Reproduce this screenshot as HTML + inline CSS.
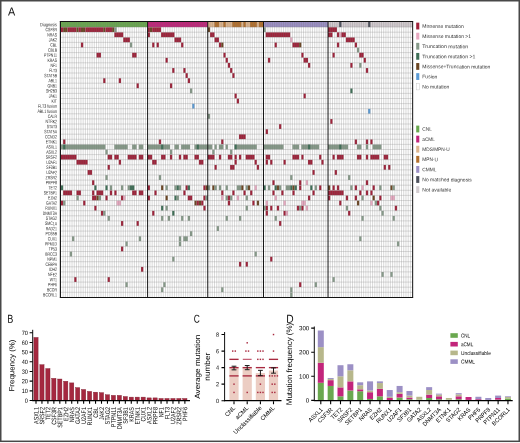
<!DOCTYPE html>
<html><head><meta charset="utf-8"><title>Figure</title>
<style>html,body{margin:0;padding:0;background:#fff;overflow:hidden}svg{display:block;will-change:transform}</style></head>
<body>
<svg width="520" height="443" viewBox="0 0 520 443" font-family="'Liberation Sans', sans-serif" text-rendering="geometricPrecision">
<rect x="0" y="0" width="520" height="443" fill="#fff"/>
<g>
<rect x="0.75" y="0.75" width="518.5" height="440.55" fill="#fff" stroke="#484848" stroke-width="1.5"/>
<g shape-rendering="auto">
<rect x="60.4" y="21.44" width="352.26" height="275.96" fill="#fff"/>
<rect x="60.9" y="21.44" width="86.82" height="5.66" fill="#6aa84f"/>
<rect x="147.72" y="21.44" width="60.11" height="5.66" fill="#c2257b"/>
<rect x="207.83" y="21.44" width="55.65" height="5.66" fill="#deb68f"/>
<rect x="214.51" y="21.44" width="4.45" height="5.66" fill="#b4712e"/>
<rect x="223.41" y="21.44" width="2.23" height="5.66" fill="#b4712e"/>
<rect x="232.32" y="21.44" width="8.9" height="5.66" fill="#b4712e"/>
<rect x="243.45" y="21.44" width="2.23" height="5.66" fill="#b4712e"/>
<rect x="250.13" y="21.44" width="6.68" height="5.66" fill="#b4712e"/>
<rect x="259.03" y="21.44" width="4.45" height="5.66" fill="#b4712e"/>
<rect x="263.48" y="21.44" width="64.56" height="5.66" fill="#9c90c5"/>
<rect x="328.04" y="21.44" width="84.6" height="5.66" fill="#d3ccd0"/>
<rect x="339.17" y="21.44" width="2.23" height="5.66" fill="#4e525d"/>
<rect x="368.12" y="21.44" width="2.23" height="5.66" fill="#4e525d"/>
<rect x="60.9" y="27.25" width="2.23" height="4.8" fill="#a0223a"/>
<rect x="63.13" y="27.25" width="4.45" height="4.8" fill="#6b4522"/>
<rect x="67.58" y="27.25" width="8.9" height="4.8" fill="#a0223a"/>
<rect x="76.48" y="27.25" width="2.23" height="4.8" fill="#6b4522"/>
<rect x="78.71" y="27.25" width="2.23" height="4.8" fill="#a0223a"/>
<rect x="80.94" y="27.25" width="4.45" height="4.8" fill="#6b4522"/>
<rect x="85.39" y="27.25" width="17.81" height="4.8" fill="#a0223a"/>
<rect x="103.2" y="27.25" width="2.23" height="4.8" fill="#6b4522"/>
<rect x="105.42" y="27.25" width="6.68" height="4.8" fill="#a0223a"/>
<rect x="112.1" y="27.25" width="2.23" height="4.8" fill="#6b4522"/>
<rect x="114.33" y="27.25" width="2.23" height="4.8" fill="#869a89"/>
<rect x="147.72" y="27.25" width="2.23" height="4.8" fill="#a0223a"/>
<rect x="149.95" y="27.25" width="2.23" height="4.8" fill="#6b4522"/>
<rect x="152.17" y="27.25" width="8.9" height="4.8" fill="#a0223a"/>
<rect x="207.83" y="27.25" width="2.23" height="4.8" fill="#6b4522"/>
<rect x="263.48" y="27.25" width="2.23" height="4.8" fill="#869a89"/>
<rect x="328.04" y="27.25" width="8.9" height="4.8" fill="#a0223a"/>
<rect x="114.33" y="32.35" width="8.9" height="4.8" fill="#a0223a"/>
<rect x="147.72" y="32.35" width="2.23" height="4.8" fill="#a0223a"/>
<rect x="161.08" y="32.35" width="13.36" height="4.8" fill="#a0223a"/>
<rect x="210.06" y="32.35" width="4.45" height="4.8" fill="#a0223a"/>
<rect x="265.71" y="32.35" width="24.49" height="4.8" fill="#a0223a"/>
<rect x="328.04" y="32.35" width="4.45" height="4.8" fill="#a0223a"/>
<rect x="336.95" y="32.35" width="2.23" height="4.8" fill="#a0223a"/>
<rect x="339.17" y="32.35" width="2.23" height="4.8" fill="#e6a9c0"/>
<rect x="341.4" y="32.35" width="4.45" height="4.8" fill="#a0223a"/>
<rect x="123.23" y="37.45" width="6.68" height="4.8" fill="#a0223a"/>
<rect x="174.44" y="37.45" width="6.68" height="4.8" fill="#a0223a"/>
<rect x="214.51" y="37.45" width="4.45" height="4.8" fill="#a0223a"/>
<rect x="290.2" y="37.45" width="2.23" height="4.8" fill="#e6a9c0"/>
<rect x="345.85" y="37.45" width="8.9" height="4.8" fill="#a0223a"/>
<rect x="80.94" y="42.55" width="2.23" height="4.8" fill="#a0223a"/>
<rect x="129.91" y="42.55" width="2.23" height="4.8" fill="#869a89"/>
<rect x="152.17" y="42.55" width="2.23" height="4.8" fill="#a0223a"/>
<rect x="156.63" y="42.55" width="2.23" height="4.8" fill="#a0223a"/>
<rect x="181.11" y="42.55" width="2.23" height="4.8" fill="#a0223a"/>
<rect x="218.96" y="42.55" width="2.23" height="4.8" fill="#a0223a"/>
<rect x="221.19" y="42.55" width="2.23" height="4.8" fill="#6b4522"/>
<rect x="274.62" y="42.55" width="2.23" height="4.8" fill="#a0223a"/>
<rect x="292.42" y="42.55" width="6.68" height="4.8" fill="#a0223a"/>
<rect x="299.1" y="42.55" width="2.23" height="4.8" fill="#6b4522"/>
<rect x="336.95" y="42.55" width="2.23" height="4.8" fill="#a0223a"/>
<rect x="354.76" y="42.55" width="2.23" height="4.8" fill="#a0223a"/>
<rect x="356.98" y="47.65" width="2.23" height="4.8" fill="#869a89"/>
<rect x="96.52" y="52.75" width="4.45" height="4.8" fill="#a0223a"/>
<rect x="132.14" y="52.75" width="4.45" height="4.8" fill="#a0223a"/>
<rect x="223.41" y="52.75" width="2.23" height="4.8" fill="#a0223a"/>
<rect x="301.33" y="52.75" width="2.23" height="4.8" fill="#a0223a"/>
<rect x="332.5" y="52.75" width="2.23" height="4.8" fill="#a0223a"/>
<rect x="359.21" y="52.75" width="4.45" height="4.8" fill="#a0223a"/>
<rect x="165.53" y="57.85" width="2.23" height="4.8" fill="#a0223a"/>
<rect x="225.64" y="57.85" width="2.23" height="4.8" fill="#a0223a"/>
<rect x="267.94" y="57.85" width="2.23" height="4.8" fill="#a0223a"/>
<rect x="303.56" y="57.85" width="4.45" height="4.8" fill="#a0223a"/>
<rect x="363.66" y="57.85" width="2.23" height="4.8" fill="#a0223a"/>
<rect x="227.87" y="62.95" width="2.23" height="4.8" fill="#a0223a"/>
<rect x="308.01" y="62.95" width="2.23" height="4.8" fill="#a0223a"/>
<rect x="350.31" y="62.95" width="2.23" height="4.8" fill="#a0223a"/>
<rect x="359.21" y="62.95" width="2.23" height="4.8" fill="#869a89"/>
<rect x="172.21" y="68.05" width="2.23" height="4.8" fill="#a0223a"/>
<rect x="183.34" y="68.05" width="2.23" height="4.8" fill="#a0223a"/>
<rect x="230.09" y="68.05" width="2.23" height="4.8" fill="#a0223a"/>
<rect x="365.89" y="68.05" width="2.23" height="4.8" fill="#a0223a"/>
<rect x="185.57" y="73.15" width="2.23" height="4.8" fill="#a0223a"/>
<rect x="232.32" y="73.15" width="2.23" height="4.8" fill="#a0223a"/>
<rect x="103.2" y="78.25" width="2.23" height="4.8" fill="#a0223a"/>
<rect x="118.78" y="78.25" width="2.23" height="4.8" fill="#a0223a"/>
<rect x="187.79" y="78.25" width="2.23" height="4.8" fill="#a0223a"/>
<rect x="136.59" y="83.35" width="2.23" height="4.8" fill="#a0223a"/>
<rect x="169.98" y="83.35" width="2.23" height="4.8" fill="#a0223a"/>
<rect x="190.02" y="88.45" width="2.23" height="4.8" fill="#869a89"/>
<rect x="350.31" y="88.45" width="2.23" height="4.8" fill="#3f6f57"/>
<rect x="234.54" y="93.55" width="2.23" height="4.8" fill="#a0223a"/>
<rect x="303.56" y="93.55" width="2.23" height="4.8" fill="#a0223a"/>
<rect x="236.77" y="98.65" width="2.23" height="4.8" fill="#a0223a"/>
<rect x="192.25" y="103.75" width="2.23" height="4.8" fill="#5b9bd5"/>
<rect x="368.12" y="108.85" width="2.23" height="4.8" fill="#5b9bd5"/>
<rect x="207.83" y="113.95" width="2.23" height="4.8" fill="#869a89"/>
<rect x="330.27" y="119.05" width="2.23" height="4.8" fill="#a0223a"/>
<rect x="279.07" y="124.15" width="2.23" height="4.8" fill="#a0223a"/>
<rect x="265.71" y="129.25" width="2.23" height="4.8" fill="#a0223a"/>
<rect x="239" y="134.35" width="6.68" height="4.8" fill="#a0223a"/>
<rect x="63.13" y="139.45" width="2.23" height="4.8" fill="#a0223a"/>
<rect x="158.85" y="139.45" width="2.23" height="4.8" fill="#a0223a"/>
<rect x="221.19" y="139.45" width="2.23" height="4.8" fill="#a0223a"/>
<rect x="354.76" y="139.45" width="2.23" height="4.8" fill="#a0223a"/>
<rect x="365.89" y="139.45" width="2.23" height="4.8" fill="#a0223a"/>
<rect x="370.34" y="139.45" width="2.23" height="4.8" fill="#a0223a"/>
<rect x="60.9" y="144.55" width="44.52" height="4.8" fill="#869a89"/>
<rect x="63.13" y="144.55" width="2.23" height="4.8" fill="#3f6f57"/>
<rect x="114.33" y="144.55" width="13.36" height="4.8" fill="#869a89"/>
<rect x="132.14" y="144.55" width="4.45" height="4.8" fill="#869a89"/>
<rect x="138.82" y="144.55" width="4.45" height="4.8" fill="#869a89"/>
<rect x="147.72" y="144.55" width="22.26" height="4.8" fill="#869a89"/>
<rect x="161.08" y="144.55" width="2.23" height="4.8" fill="#3f6f57"/>
<rect x="174.44" y="144.55" width="4.45" height="4.8" fill="#869a89"/>
<rect x="181.11" y="144.55" width="8.9" height="4.8" fill="#869a89"/>
<rect x="194.47" y="144.55" width="13.36" height="4.8" fill="#869a89"/>
<rect x="196.7" y="144.55" width="2.23" height="4.8" fill="#3f6f57"/>
<rect x="207.83" y="144.55" width="4.45" height="4.8" fill="#869a89"/>
<rect x="214.51" y="144.55" width="2.23" height="4.8" fill="#869a89"/>
<rect x="218.96" y="144.55" width="4.45" height="4.8" fill="#869a89"/>
<rect x="225.64" y="144.55" width="2.23" height="4.8" fill="#869a89"/>
<rect x="234.54" y="144.55" width="22.26" height="4.8" fill="#869a89"/>
<rect x="234.54" y="144.55" width="2.23" height="4.8" fill="#3f6f57"/>
<rect x="263.48" y="144.55" width="20.04" height="4.8" fill="#869a89"/>
<rect x="292.42" y="144.55" width="6.68" height="4.8" fill="#869a89"/>
<rect x="301.33" y="144.55" width="17.81" height="4.8" fill="#869a89"/>
<rect x="308.01" y="144.55" width="2.23" height="4.8" fill="#3f6f57"/>
<rect x="328.04" y="144.55" width="20.04" height="4.8" fill="#869a89"/>
<rect x="339.17" y="144.55" width="2.23" height="4.8" fill="#3f6f57"/>
<rect x="356.98" y="144.55" width="4.45" height="4.8" fill="#869a89"/>
<rect x="365.89" y="144.55" width="2.23" height="4.8" fill="#869a89"/>
<rect x="372.57" y="144.55" width="8.9" height="4.8" fill="#869a89"/>
<rect x="105.42" y="149.65" width="2.23" height="4.8" fill="#869a89"/>
<rect x="169.98" y="149.65" width="2.23" height="4.8" fill="#869a89"/>
<rect x="212.28" y="149.65" width="2.23" height="4.8" fill="#869a89"/>
<rect x="230.09" y="149.65" width="2.23" height="4.8" fill="#869a89"/>
<rect x="60.9" y="154.75" width="15.58" height="4.8" fill="#a0223a"/>
<rect x="107.65" y="154.75" width="4.45" height="4.8" fill="#a0223a"/>
<rect x="114.33" y="154.75" width="4.45" height="4.8" fill="#a0223a"/>
<rect x="127.69" y="154.75" width="8.9" height="4.8" fill="#a0223a"/>
<rect x="138.82" y="154.75" width="4.45" height="4.8" fill="#a0223a"/>
<rect x="147.72" y="154.75" width="4.45" height="4.8" fill="#a0223a"/>
<rect x="161.08" y="154.75" width="4.45" height="4.8" fill="#a0223a"/>
<rect x="169.98" y="154.75" width="2.23" height="4.8" fill="#a0223a"/>
<rect x="178.89" y="154.75" width="2.23" height="4.8" fill="#a0223a"/>
<rect x="183.34" y="154.75" width="4.45" height="4.8" fill="#a0223a"/>
<rect x="194.47" y="154.75" width="4.45" height="4.8" fill="#a0223a"/>
<rect x="207.83" y="154.75" width="6.68" height="4.8" fill="#a0223a"/>
<rect x="218.96" y="154.75" width="2.23" height="4.8" fill="#a0223a"/>
<rect x="227.87" y="154.75" width="4.45" height="4.8" fill="#a0223a"/>
<rect x="234.54" y="154.75" width="2.23" height="4.8" fill="#a0223a"/>
<rect x="239" y="154.75" width="2.23" height="4.8" fill="#a0223a"/>
<rect x="245.67" y="154.75" width="8.9" height="4.8" fill="#a0223a"/>
<rect x="265.71" y="154.75" width="4.45" height="4.8" fill="#a0223a"/>
<rect x="292.42" y="154.75" width="6.68" height="4.8" fill="#a0223a"/>
<rect x="301.33" y="154.75" width="2.23" height="4.8" fill="#a0223a"/>
<rect x="319.14" y="154.75" width="2.23" height="4.8" fill="#a0223a"/>
<rect x="332.5" y="154.75" width="2.23" height="4.8" fill="#a0223a"/>
<rect x="336.95" y="154.75" width="6.68" height="4.8" fill="#a0223a"/>
<rect x="356.98" y="154.75" width="4.45" height="4.8" fill="#a0223a"/>
<rect x="365.89" y="154.75" width="2.23" height="4.8" fill="#a0223a"/>
<rect x="370.34" y="154.75" width="8.9" height="4.8" fill="#a0223a"/>
<rect x="383.7" y="154.75" width="4.45" height="4.8" fill="#a0223a"/>
<rect x="76.48" y="159.85" width="11.13" height="4.8" fill="#a0223a"/>
<rect x="118.78" y="159.85" width="2.23" height="4.8" fill="#a0223a"/>
<rect x="152.17" y="159.85" width="4.45" height="4.8" fill="#a0223a"/>
<rect x="198.92" y="159.85" width="4.45" height="4.8" fill="#a0223a"/>
<rect x="234.54" y="159.85" width="2.23" height="4.8" fill="#a0223a"/>
<rect x="254.58" y="159.85" width="2.23" height="4.8" fill="#a0223a"/>
<rect x="265.71" y="159.85" width="2.23" height="4.8" fill="#a0223a"/>
<rect x="270.16" y="159.85" width="2.23" height="4.8" fill="#a0223a"/>
<rect x="283.52" y="159.85" width="2.23" height="4.8" fill="#a0223a"/>
<rect x="308.01" y="159.85" width="4.45" height="4.8" fill="#a0223a"/>
<rect x="321.37" y="159.85" width="2.23" height="4.8" fill="#a0223a"/>
<rect x="107.65" y="164.95" width="2.23" height="4.8" fill="#a0223a"/>
<rect x="214.51" y="164.95" width="2.23" height="4.8" fill="#a0223a"/>
<rect x="230.09" y="164.95" width="4.45" height="4.8" fill="#a0223a"/>
<rect x="256.81" y="164.95" width="2.23" height="4.8" fill="#a0223a"/>
<rect x="383.7" y="164.95" width="2.23" height="4.8" fill="#a0223a"/>
<rect x="388.15" y="164.95" width="2.23" height="4.8" fill="#a0223a"/>
<rect x="87.61" y="170.05" width="4.45" height="4.8" fill="#a0223a"/>
<rect x="312.46" y="170.05" width="2.23" height="4.8" fill="#a0223a"/>
<rect x="334.72" y="170.05" width="2.23" height="4.8" fill="#a0223a"/>
<rect x="105.42" y="175.15" width="2.23" height="4.8" fill="#869a89"/>
<rect x="158.85" y="175.15" width="2.23" height="4.8" fill="#869a89"/>
<rect x="290.2" y="175.15" width="2.23" height="4.8" fill="#869a89"/>
<rect x="348.08" y="175.15" width="2.23" height="4.8" fill="#869a89"/>
<rect x="92.07" y="180.25" width="2.23" height="4.8" fill="#a0223a"/>
<rect x="272.39" y="180.25" width="2.23" height="4.8" fill="#a0223a"/>
<rect x="299.1" y="180.25" width="2.23" height="4.8" fill="#a0223a"/>
<rect x="305.78" y="180.25" width="2.23" height="4.8" fill="#e6a9c0"/>
<rect x="365.89" y="180.25" width="2.23" height="4.8" fill="#a0223a"/>
<rect x="60.9" y="185.35" width="2.23" height="4.8" fill="#3f6f57"/>
<rect x="94.29" y="185.35" width="2.23" height="4.8" fill="#3f6f57"/>
<rect x="105.42" y="185.35" width="2.23" height="4.8" fill="#3f6f57"/>
<rect x="109.88" y="185.35" width="2.23" height="4.8" fill="#869a89"/>
<rect x="121.01" y="185.35" width="2.23" height="4.8" fill="#869a89"/>
<rect x="127.69" y="185.35" width="2.23" height="4.8" fill="#869a89"/>
<rect x="129.91" y="185.35" width="4.45" height="4.8" fill="#3f6f57"/>
<rect x="147.72" y="185.35" width="2.23" height="4.8" fill="#a0223a"/>
<rect x="161.08" y="185.35" width="2.23" height="4.8" fill="#6b4522"/>
<rect x="165.53" y="185.35" width="2.23" height="4.8" fill="#869a89"/>
<rect x="174.44" y="185.35" width="2.23" height="4.8" fill="#869a89"/>
<rect x="176.66" y="185.35" width="2.23" height="4.8" fill="#3f6f57"/>
<rect x="178.89" y="185.35" width="2.23" height="4.8" fill="#869a89"/>
<rect x="185.57" y="185.35" width="2.23" height="4.8" fill="#a0223a"/>
<rect x="187.79" y="185.35" width="2.23" height="4.8" fill="#3f6f57"/>
<rect x="203.38" y="185.35" width="2.23" height="4.8" fill="#a0223a"/>
<rect x="205.6" y="185.35" width="2.23" height="4.8" fill="#6b4522"/>
<rect x="207.83" y="185.35" width="2.23" height="4.8" fill="#869a89"/>
<rect x="212.28" y="185.35" width="2.23" height="4.8" fill="#6b4522"/>
<rect x="214.51" y="185.35" width="2.23" height="4.8" fill="#869a89"/>
<rect x="218.96" y="185.35" width="2.23" height="4.8" fill="#869a89"/>
<rect x="225.64" y="185.35" width="2.23" height="4.8" fill="#869a89"/>
<rect x="236.77" y="185.35" width="4.45" height="4.8" fill="#869a89"/>
<rect x="241.22" y="185.35" width="2.23" height="4.8" fill="#6b4522"/>
<rect x="245.67" y="185.35" width="2.23" height="4.8" fill="#869a89"/>
<rect x="247.9" y="185.35" width="2.23" height="4.8" fill="#6b4522"/>
<rect x="254.58" y="185.35" width="2.23" height="4.8" fill="#e6a9c0"/>
<rect x="263.48" y="185.35" width="2.23" height="4.8" fill="#3f6f57"/>
<rect x="267.94" y="185.35" width="2.23" height="4.8" fill="#869a89"/>
<rect x="274.62" y="185.35" width="2.23" height="4.8" fill="#3f6f57"/>
<rect x="276.84" y="185.35" width="2.23" height="4.8" fill="#6b4522"/>
<rect x="279.07" y="185.35" width="2.23" height="4.8" fill="#869a89"/>
<rect x="285.75" y="185.35" width="4.45" height="4.8" fill="#869a89"/>
<rect x="290.2" y="185.35" width="2.23" height="4.8" fill="#3f6f57"/>
<rect x="292.42" y="185.35" width="2.23" height="4.8" fill="#6b4522"/>
<rect x="294.65" y="185.35" width="2.23" height="4.8" fill="#3f6f57"/>
<rect x="299.1" y="185.35" width="2.23" height="4.8" fill="#a0223a"/>
<rect x="310.23" y="185.35" width="2.23" height="4.8" fill="#3f6f57"/>
<rect x="314.69" y="185.35" width="2.23" height="4.8" fill="#869a89"/>
<rect x="319.14" y="185.35" width="2.23" height="4.8" fill="#a0223a"/>
<rect x="328.04" y="185.35" width="2.23" height="4.8" fill="#6b4522"/>
<rect x="332.5" y="185.35" width="2.23" height="4.8" fill="#a0223a"/>
<rect x="336.95" y="185.35" width="2.23" height="4.8" fill="#a0223a"/>
<rect x="350.31" y="185.35" width="2.23" height="4.8" fill="#869a89"/>
<rect x="354.76" y="185.35" width="2.23" height="4.8" fill="#a0223a"/>
<rect x="361.44" y="185.35" width="2.23" height="4.8" fill="#e6a9c0"/>
<rect x="372.57" y="185.35" width="2.23" height="4.8" fill="#a0223a"/>
<rect x="379.25" y="185.35" width="2.23" height="4.8" fill="#869a89"/>
<rect x="390.38" y="185.35" width="2.23" height="4.8" fill="#6b4522"/>
<rect x="392.6" y="185.35" width="2.23" height="4.8" fill="#869a89"/>
<rect x="63.13" y="190.45" width="8.9" height="4.8" fill="#a0223a"/>
<rect x="76.48" y="190.45" width="4.45" height="4.8" fill="#a0223a"/>
<rect x="92.07" y="190.45" width="2.23" height="4.8" fill="#a0223a"/>
<rect x="96.52" y="190.45" width="6.68" height="4.8" fill="#a0223a"/>
<rect x="109.88" y="190.45" width="2.23" height="4.8" fill="#a0223a"/>
<rect x="114.33" y="190.45" width="2.23" height="4.8" fill="#a0223a"/>
<rect x="132.14" y="190.45" width="4.45" height="4.8" fill="#a0223a"/>
<rect x="138.82" y="190.45" width="4.45" height="4.8" fill="#a0223a"/>
<rect x="154.4" y="190.45" width="2.23" height="4.8" fill="#a0223a"/>
<rect x="183.34" y="190.45" width="2.23" height="4.8" fill="#a0223a"/>
<rect x="221.19" y="190.45" width="2.23" height="4.8" fill="#a0223a"/>
<rect x="232.32" y="190.45" width="2.23" height="4.8" fill="#a0223a"/>
<rect x="243.45" y="190.45" width="2.23" height="4.8" fill="#a0223a"/>
<rect x="250.13" y="190.45" width="2.23" height="4.8" fill="#a0223a"/>
<rect x="272.39" y="190.45" width="2.23" height="4.8" fill="#a0223a"/>
<rect x="281.29" y="190.45" width="2.23" height="4.8" fill="#a0223a"/>
<rect x="292.42" y="190.45" width="2.23" height="4.8" fill="#a0223a"/>
<rect x="312.46" y="190.45" width="2.23" height="4.8" fill="#a0223a"/>
<rect x="328.04" y="190.45" width="15.58" height="4.8" fill="#a0223a"/>
<rect x="359.21" y="190.45" width="2.23" height="4.8" fill="#a0223a"/>
<rect x="365.89" y="190.45" width="2.23" height="4.8" fill="#a0223a"/>
<rect x="370.34" y="190.45" width="2.23" height="4.8" fill="#a0223a"/>
<rect x="76.48" y="195.55" width="2.23" height="4.8" fill="#869a89"/>
<rect x="92.07" y="195.55" width="4.45" height="4.8" fill="#a0223a"/>
<rect x="96.52" y="195.55" width="2.23" height="4.8" fill="#6b4522"/>
<rect x="98.75" y="195.55" width="2.23" height="4.8" fill="#869a89"/>
<rect x="105.42" y="195.55" width="2.23" height="4.8" fill="#a0223a"/>
<rect x="121.01" y="195.55" width="2.23" height="4.8" fill="#a0223a"/>
<rect x="123.23" y="195.55" width="2.23" height="4.8" fill="#e6a9c0"/>
<rect x="147.72" y="195.55" width="2.23" height="4.8" fill="#a0223a"/>
<rect x="165.53" y="195.55" width="2.23" height="4.8" fill="#6b4522"/>
<rect x="174.44" y="195.55" width="2.23" height="4.8" fill="#3f6f57"/>
<rect x="176.66" y="195.55" width="2.23" height="4.8" fill="#869a89"/>
<rect x="187.79" y="195.55" width="4.45" height="4.8" fill="#a0223a"/>
<rect x="203.38" y="195.55" width="2.23" height="4.8" fill="#a0223a"/>
<rect x="205.6" y="195.55" width="2.23" height="4.8" fill="#869a89"/>
<rect x="221.19" y="195.55" width="2.23" height="4.8" fill="#e6a9c0"/>
<rect x="225.64" y="195.55" width="2.23" height="4.8" fill="#869a89"/>
<rect x="227.87" y="195.55" width="2.23" height="4.8" fill="#a0223a"/>
<rect x="230.09" y="195.55" width="2.23" height="4.8" fill="#869a89"/>
<rect x="236.77" y="195.55" width="2.23" height="4.8" fill="#e6a9c0"/>
<rect x="245.67" y="195.55" width="2.23" height="4.8" fill="#869a89"/>
<rect x="274.62" y="195.55" width="2.23" height="4.8" fill="#e6a9c0"/>
<rect x="308.01" y="195.55" width="2.23" height="4.8" fill="#a0223a"/>
<rect x="328.04" y="195.55" width="2.23" height="4.8" fill="#a0223a"/>
<rect x="345.85" y="195.55" width="2.23" height="4.8" fill="#a0223a"/>
<rect x="354.76" y="195.55" width="2.23" height="4.8" fill="#a0223a"/>
<rect x="361.44" y="195.55" width="2.23" height="4.8" fill="#869a89"/>
<rect x="372.57" y="195.55" width="2.23" height="4.8" fill="#6b4522"/>
<rect x="379.25" y="195.55" width="2.23" height="4.8" fill="#a0223a"/>
<rect x="390.38" y="195.55" width="4.45" height="4.8" fill="#e6a9c0"/>
<rect x="60.9" y="200.65" width="2.23" height="4.8" fill="#a0223a"/>
<rect x="63.13" y="200.65" width="2.23" height="4.8" fill="#869a89"/>
<rect x="83.16" y="200.65" width="2.23" height="4.8" fill="#a0223a"/>
<rect x="116.56" y="200.65" width="4.45" height="4.8" fill="#e6a9c0"/>
<rect x="194.47" y="200.65" width="2.23" height="4.8" fill="#6b4522"/>
<rect x="196.7" y="200.65" width="2.23" height="4.8" fill="#a0223a"/>
<rect x="198.92" y="200.65" width="2.23" height="4.8" fill="#6b4522"/>
<rect x="201.15" y="200.65" width="2.23" height="4.8" fill="#a0223a"/>
<rect x="227.87" y="200.65" width="2.23" height="4.8" fill="#a0223a"/>
<rect x="252.35" y="200.65" width="2.23" height="4.8" fill="#a0223a"/>
<rect x="256.81" y="200.65" width="2.23" height="4.8" fill="#6b4522"/>
<rect x="265.71" y="200.65" width="2.23" height="4.8" fill="#e6a9c0"/>
<rect x="283.52" y="200.65" width="2.23" height="4.8" fill="#e6a9c0"/>
<rect x="301.33" y="200.65" width="4.45" height="4.8" fill="#e6a9c0"/>
<rect x="339.17" y="200.65" width="2.23" height="4.8" fill="#a0223a"/>
<rect x="356.98" y="200.65" width="2.23" height="4.8" fill="#6b4522"/>
<rect x="370.34" y="200.65" width="2.23" height="4.8" fill="#e6a9c0"/>
<rect x="374.79" y="200.65" width="2.23" height="4.8" fill="#869a89"/>
<rect x="377.02" y="200.65" width="2.23" height="4.8" fill="#a0223a"/>
<rect x="94.29" y="205.75" width="2.23" height="4.8" fill="#a0223a"/>
<rect x="161.08" y="205.75" width="2.23" height="4.8" fill="#3f6f57"/>
<rect x="165.53" y="205.75" width="2.23" height="4.8" fill="#869a89"/>
<rect x="203.38" y="205.75" width="2.23" height="4.8" fill="#a0223a"/>
<rect x="245.67" y="205.75" width="2.23" height="4.8" fill="#869a89"/>
<rect x="263.48" y="205.75" width="2.23" height="4.8" fill="#869a89"/>
<rect x="265.71" y="205.75" width="2.23" height="4.8" fill="#a0223a"/>
<rect x="270.16" y="205.75" width="2.23" height="4.8" fill="#a0223a"/>
<rect x="276.84" y="205.75" width="2.23" height="4.8" fill="#a0223a"/>
<rect x="296.88" y="205.75" width="2.23" height="4.8" fill="#a0223a"/>
<rect x="299.1" y="205.75" width="2.23" height="4.8" fill="#869a89"/>
<rect x="301.33" y="205.75" width="2.23" height="4.8" fill="#a0223a"/>
<rect x="305.78" y="205.75" width="2.23" height="4.8" fill="#e6a9c0"/>
<rect x="345.85" y="205.75" width="2.23" height="4.8" fill="#869a89"/>
<rect x="379.25" y="205.75" width="2.23" height="4.8" fill="#869a89"/>
<rect x="394.83" y="205.75" width="2.23" height="4.8" fill="#a0223a"/>
<rect x="100.97" y="210.85" width="2.23" height="4.8" fill="#a0223a"/>
<rect x="103.2" y="210.85" width="2.23" height="4.8" fill="#869a89"/>
<rect x="152.17" y="210.85" width="2.23" height="4.8" fill="#a0223a"/>
<rect x="172.21" y="210.85" width="2.23" height="4.8" fill="#3f6f57"/>
<rect x="265.71" y="210.85" width="2.23" height="4.8" fill="#a0223a"/>
<rect x="283.52" y="210.85" width="2.23" height="4.8" fill="#a0223a"/>
<rect x="285.75" y="210.85" width="2.23" height="4.8" fill="#e6a9c0"/>
<rect x="348.08" y="210.85" width="2.23" height="4.8" fill="#a0223a"/>
<rect x="381.47" y="210.85" width="2.23" height="4.8" fill="#869a89"/>
<rect x="107.65" y="215.95" width="2.23" height="4.8" fill="#869a89"/>
<rect x="161.08" y="215.95" width="2.23" height="4.8" fill="#869a89"/>
<rect x="167.76" y="215.95" width="2.23" height="4.8" fill="#869a89"/>
<rect x="181.11" y="215.95" width="2.23" height="4.8" fill="#869a89"/>
<rect x="187.79" y="215.95" width="2.23" height="4.8" fill="#869a89"/>
<rect x="225.64" y="215.95" width="2.23" height="4.8" fill="#869a89"/>
<rect x="239" y="215.95" width="2.23" height="4.8" fill="#869a89"/>
<rect x="274.62" y="215.95" width="2.23" height="4.8" fill="#869a89"/>
<rect x="361.44" y="215.95" width="2.23" height="4.8" fill="#869a89"/>
<rect x="392.6" y="215.95" width="2.23" height="4.8" fill="#869a89"/>
<rect x="121.01" y="221.05" width="2.23" height="4.8" fill="#a0223a"/>
<rect x="136.59" y="221.05" width="2.23" height="4.8" fill="#a0223a"/>
<rect x="279.07" y="221.05" width="2.23" height="4.8" fill="#a0223a"/>
<rect x="216.73" y="226.15" width="2.23" height="4.8" fill="#869a89"/>
<rect x="190.02" y="231.25" width="2.23" height="4.8" fill="#869a89"/>
<rect x="72.03" y="236.35" width="2.23" height="4.8" fill="#869a89"/>
<rect x="138.82" y="236.35" width="2.23" height="4.8" fill="#869a89"/>
<rect x="178.89" y="236.35" width="2.23" height="4.8" fill="#869a89"/>
<rect x="183.34" y="236.35" width="4.45" height="4.8" fill="#869a89"/>
<rect x="359.21" y="236.35" width="2.23" height="4.8" fill="#869a89"/>
<rect x="125.46" y="241.45" width="2.23" height="4.8" fill="#869a89"/>
<rect x="178.89" y="241.45" width="2.23" height="4.8" fill="#869a89"/>
<rect x="397.06" y="241.45" width="2.23" height="4.8" fill="#869a89"/>
<rect x="121.01" y="246.55" width="2.23" height="4.8" fill="#a0223a"/>
<rect x="69.8" y="251.65" width="2.23" height="4.8" fill="#869a89"/>
<rect x="254.58" y="251.65" width="2.23" height="4.8" fill="#869a89"/>
<rect x="172.21" y="256.75" width="2.23" height="4.8" fill="#869a89"/>
<rect x="270.16" y="256.75" width="2.23" height="4.8" fill="#a0223a"/>
<rect x="239" y="261.85" width="2.23" height="4.8" fill="#a0223a"/>
<rect x="245.67" y="261.85" width="2.23" height="4.8" fill="#a0223a"/>
<rect x="141.04" y="266.95" width="2.23" height="4.8" fill="#a0223a"/>
<rect x="381.47" y="272.05" width="2.23" height="4.8" fill="#869a89"/>
<rect x="390.38" y="272.05" width="2.23" height="4.8" fill="#869a89"/>
<rect x="74.26" y="277.15" width="2.23" height="4.8" fill="#a0223a"/>
<rect x="107.65" y="277.15" width="2.23" height="4.8" fill="#a0223a"/>
<rect x="332.5" y="277.15" width="2.23" height="4.8" fill="#869a89"/>
<rect x="125.46" y="282.25" width="2.23" height="4.8" fill="#869a89"/>
<rect x="163.31" y="282.25" width="2.23" height="4.8" fill="#869a89"/>
<rect x="299.1" y="282.25" width="2.23" height="4.8" fill="#a0223a"/>
<rect x="314.69" y="282.25" width="2.23" height="4.8" fill="#869a89"/>
<rect x="161.08" y="287.35" width="2.23" height="4.8" fill="#869a89"/>
<rect x="221.19" y="287.35" width="2.23" height="4.8" fill="#869a89"/>
<rect x="290.2" y="287.35" width="2.23" height="4.8" fill="#869a89"/>
<rect x="290.2" y="292.45" width="2.23" height="4.8" fill="#869a89"/>
<path d="M63.13 22V297.4M65.35 22V297.4M67.58 22V297.4M69.8 22V297.4M72.03 22V297.4M74.26 22V297.4M76.48 22V297.4M78.71 22V297.4M80.94 22V297.4M83.16 22V297.4M85.39 22V297.4M87.61 22V297.4M89.84 22V297.4M92.07 22V297.4M94.29 22V297.4M96.52 22V297.4M98.75 22V297.4M100.97 22V297.4M103.2 22V297.4M105.42 22V297.4M107.65 22V297.4M109.88 22V297.4M112.1 22V297.4M114.33 22V297.4M116.56 22V297.4M118.78 22V297.4M121.01 22V297.4M123.23 22V297.4M125.46 22V297.4M127.69 22V297.4M129.91 22V297.4M132.14 22V297.4M134.36 22V297.4M136.59 22V297.4M138.82 22V297.4M141.04 22V297.4M143.27 22V297.4M145.5 22V297.4M149.95 22V297.4M152.17 22V297.4M154.4 22V297.4M156.63 22V297.4M158.85 22V297.4M161.08 22V297.4M163.31 22V297.4M165.53 22V297.4M167.76 22V297.4M169.98 22V297.4M172.21 22V297.4M174.44 22V297.4M176.66 22V297.4M178.89 22V297.4M181.11 22V297.4M183.34 22V297.4M185.57 22V297.4M187.79 22V297.4M190.02 22V297.4M192.25 22V297.4M194.47 22V297.4M196.7 22V297.4M198.92 22V297.4M201.15 22V297.4M203.38 22V297.4M205.6 22V297.4M210.06 22V297.4M212.28 22V297.4M214.51 22V297.4M216.73 22V297.4M218.96 22V297.4M221.19 22V297.4M223.41 22V297.4M225.64 22V297.4M227.87 22V297.4M230.09 22V297.4M232.32 22V297.4M234.54 22V297.4M236.77 22V297.4M239 22V297.4M241.22 22V297.4M243.45 22V297.4M245.67 22V297.4M247.9 22V297.4M250.13 22V297.4M252.35 22V297.4M254.58 22V297.4M256.81 22V297.4M259.03 22V297.4M261.26 22V297.4M265.71 22V297.4M267.94 22V297.4M270.16 22V297.4M272.39 22V297.4M274.62 22V297.4M276.84 22V297.4M279.07 22V297.4M281.29 22V297.4M283.52 22V297.4M285.75 22V297.4M287.97 22V297.4M290.2 22V297.4M292.42 22V297.4M294.65 22V297.4M296.88 22V297.4M299.1 22V297.4M301.33 22V297.4M303.56 22V297.4M305.78 22V297.4M308.01 22V297.4M310.23 22V297.4M312.46 22V297.4M314.69 22V297.4M316.91 22V297.4M319.14 22V297.4M321.37 22V297.4M323.59 22V297.4M325.82 22V297.4M330.27 22V297.4M332.5 22V297.4M334.72 22V297.4M336.95 22V297.4M339.17 22V297.4M341.4 22V297.4M343.63 22V297.4M345.85 22V297.4M348.08 22V297.4M350.31 22V297.4M352.53 22V297.4M354.76 22V297.4M356.98 22V297.4M359.21 22V297.4M361.44 22V297.4M363.66 22V297.4M365.89 22V297.4M368.12 22V297.4M370.34 22V297.4M372.57 22V297.4M374.79 22V297.4M377.02 22V297.4M379.25 22V297.4M381.47 22V297.4M383.7 22V297.4M385.93 22V297.4M388.15 22V297.4M390.38 22V297.4M392.6 22V297.4M394.83 22V297.4M397.06 22V297.4M399.28 22V297.4M401.51 22V297.4M403.73 22V297.4M405.96 22V297.4M408.19 22V297.4M410.41 22V297.4" stroke="#707070" stroke-width="0.27" fill="none"/>
<path d="M60.4 27.1H412.66M60.4 32.2H412.66M60.4 37.3H412.66M60.4 42.4H412.66M60.4 47.5H412.66M60.4 52.6H412.66M60.4 57.7H412.66M60.4 62.8H412.66M60.4 67.9H412.66M60.4 73H412.66M60.4 78.1H412.66M60.4 83.2H412.66M60.4 88.3H412.66M60.4 93.4H412.66M60.4 98.5H412.66M60.4 103.6H412.66M60.4 108.7H412.66M60.4 113.8H412.66M60.4 118.9H412.66M60.4 124H412.66M60.4 129.1H412.66M60.4 134.2H412.66M60.4 139.3H412.66M60.4 144.4H412.66M60.4 149.5H412.66M60.4 154.6H412.66M60.4 159.7H412.66M60.4 164.8H412.66M60.4 169.9H412.66M60.4 175H412.66M60.4 180.1H412.66M60.4 185.2H412.66M60.4 190.3H412.66M60.4 195.4H412.66M60.4 200.5H412.66M60.4 205.6H412.66M60.4 210.7H412.66M60.4 215.8H412.66M60.4 220.9H412.66M60.4 226H412.66M60.4 231.1H412.66M60.4 236.2H412.66M60.4 241.3H412.66M60.4 246.4H412.66M60.4 251.5H412.66M60.4 256.6H412.66M60.4 261.7H412.66M60.4 266.8H412.66M60.4 271.9H412.66M60.4 277H412.66M60.4 282.1H412.66M60.4 287.2H412.66M60.4 292.3H412.66" stroke="#808080" stroke-width="0.27" fill="none"/>
<path d="M147.62 21.44V297.4M207.78 21.44V297.4M263.48 21.44V297.4M328.04 21.44V297.4" stroke="#111" stroke-width="1.0" fill="none"/>
<path d="M59.82 21.44H413.16M59.82 297.4H413.16" stroke="#111" stroke-width="1.05" fill="none"/>
<path d="M60.4 21.44V297.4" stroke="#111" stroke-width="1.15" fill="none"/>
<path d="M412.66 21.44V297.4" stroke="#111" stroke-width="1.0" fill="none"/>
</g>
<g fill="#262626">
<text x="57" y="26.25" font-size="4.9" text-anchor="end" transform="rotate(0.2 57 26.25)" textLength="17" lengthAdjust="spacingAndGlyphs">Diagnosis</text>
<text x="57" y="31.35" font-size="4.9" text-anchor="end" transform="rotate(0.2 57 31.35)" textLength="11.41" lengthAdjust="spacingAndGlyphs">CSF3R</text>
<text x="57" y="36.45" font-size="4.9" text-anchor="end" transform="rotate(0.2 57 36.45)" textLength="9.67" lengthAdjust="spacingAndGlyphs">NRAS</text>
<text x="57" y="41.55" font-size="4.9" text-anchor="end" transform="rotate(0.2 57 41.55)" textLength="8.32" lengthAdjust="spacingAndGlyphs">JAK2</text>
<text x="57" y="46.65" font-size="4.9" text-anchor="end" transform="rotate(0.2 57 46.65)" textLength="6.77" lengthAdjust="spacingAndGlyphs">CBL</text>
<text x="57" y="51.75" font-size="4.9" text-anchor="end" transform="rotate(0.2 57 51.75)" textLength="9.09" lengthAdjust="spacingAndGlyphs">CBLB</text>
<text x="57" y="56.85" font-size="4.9" text-anchor="end" transform="rotate(0.2 57 56.85)" textLength="12.89" lengthAdjust="spacingAndGlyphs">PTPN11</text>
<text x="57" y="61.95" font-size="4.9" text-anchor="end" transform="rotate(0.2 57 61.95)" textLength="9.47" lengthAdjust="spacingAndGlyphs">KRAS</text>
<text x="57" y="67.05" font-size="4.9" text-anchor="end" transform="rotate(0.2 57 67.05)" textLength="6.57" lengthAdjust="spacingAndGlyphs">NF1</text>
<text x="57" y="72.15" font-size="4.9" text-anchor="end" transform="rotate(0.2 57 72.15)" textLength="7.86" lengthAdjust="spacingAndGlyphs">FLT3</text>
<text x="57" y="77.25" font-size="4.9" text-anchor="end" transform="rotate(0.2 57 77.25)" textLength="12.63" lengthAdjust="spacingAndGlyphs">STAT5B</text>
<text x="57" y="82.35" font-size="4.9" text-anchor="end" transform="rotate(0.2 57 82.35)" textLength="8.51" lengthAdjust="spacingAndGlyphs">ABL1</text>
<text x="57" y="87.45" font-size="4.9" text-anchor="end" transform="rotate(0.2 57 87.45)" textLength="9.47" lengthAdjust="spacingAndGlyphs">GNB1</text>
<text x="57" y="92.55" font-size="4.9" text-anchor="end" transform="rotate(0.2 57 92.55)" textLength="11.02" lengthAdjust="spacingAndGlyphs">SH2B3</text>
<text x="57" y="97.65" font-size="4.9" text-anchor="end" transform="rotate(0.2 57 97.65)" textLength="8.32" lengthAdjust="spacingAndGlyphs">JAK1</text>
<text x="57" y="102.75" font-size="4.9" text-anchor="end" transform="rotate(0.2 57 102.75)" textLength="5.41" lengthAdjust="spacingAndGlyphs">KIT</text>
<text x="57" y="107.85" font-size="4.9" text-anchor="end" transform="rotate(0.2 57 107.85)" textLength="18.88" lengthAdjust="spacingAndGlyphs">FLT3 fusion</text>
<text x="57" y="112.95" font-size="4.9" text-anchor="end" transform="rotate(0.2 57 112.95)" textLength="19.55" lengthAdjust="spacingAndGlyphs">ABL1 fusion</text>
<text x="57" y="118.05" font-size="4.9" text-anchor="end" transform="rotate(0.2 57 118.05)" textLength="9.28" lengthAdjust="spacingAndGlyphs">CALR</text>
<text x="57" y="123.15" font-size="4.9" text-anchor="end" transform="rotate(0.2 57 123.15)" textLength="11.41" lengthAdjust="spacingAndGlyphs">NTRK2</text>
<text x="57" y="128.25" font-size="4.9" text-anchor="end" transform="rotate(0.2 57 128.25)" textLength="10.31" lengthAdjust="spacingAndGlyphs">STAT3</text>
<text x="57" y="133.35" font-size="4.9" text-anchor="end" transform="rotate(0.2 57 133.35)" textLength="12.63" lengthAdjust="spacingAndGlyphs">STAT5A</text>
<text x="57" y="138.45" font-size="4.9" text-anchor="end" transform="rotate(0.2 57 138.45)" textLength="11.98" lengthAdjust="spacingAndGlyphs">CCND2</text>
<text x="57" y="143.55" font-size="4.9" text-anchor="end" transform="rotate(0.2 57 143.55)" textLength="11.21" lengthAdjust="spacingAndGlyphs">ETNK1</text>
<text x="57" y="148.65" font-size="4.9" text-anchor="end" transform="rotate(0.2 57 148.65)" textLength="10.83" lengthAdjust="spacingAndGlyphs">ASXL1</text>
<text x="57" y="153.75" font-size="4.9" text-anchor="end" transform="rotate(0.2 57 153.75)" textLength="10.83" lengthAdjust="spacingAndGlyphs">ASXL2</text>
<text x="57" y="158.85" font-size="4.9" text-anchor="end" transform="rotate(0.2 57 158.85)" textLength="11.21" lengthAdjust="spacingAndGlyphs">SRSF2</text>
<text x="57" y="163.95" font-size="4.9" text-anchor="end" transform="rotate(0.2 57 163.95)" textLength="10.83" lengthAdjust="spacingAndGlyphs">U2AF1</text>
<text x="57" y="169.05" font-size="4.9" text-anchor="end" transform="rotate(0.2 57 169.05)" textLength="10.64" lengthAdjust="spacingAndGlyphs">SF3B1</text>
<text x="57" y="174.15" font-size="4.9" text-anchor="end" transform="rotate(0.2 57 174.15)" textLength="10.83" lengthAdjust="spacingAndGlyphs">U2AF2</text>
<text x="57" y="179.25" font-size="4.9" text-anchor="end" transform="rotate(0.2 57 179.25)" textLength="11.41" lengthAdjust="spacingAndGlyphs">ZRSR2</text>
<text x="57" y="184.35" font-size="4.9" text-anchor="end" transform="rotate(0.2 57 184.35)" textLength="11.21" lengthAdjust="spacingAndGlyphs">PRPF8</text>
<text x="57" y="189.45" font-size="4.9" text-anchor="end" transform="rotate(0.2 57 189.45)" textLength="8.51" lengthAdjust="spacingAndGlyphs">TET2</text>
<text x="57" y="194.55" font-size="4.9" text-anchor="end" transform="rotate(0.2 57 194.55)" textLength="13.34" lengthAdjust="spacingAndGlyphs">SETBP1</text>
<text x="57" y="199.65" font-size="4.9" text-anchor="end" transform="rotate(0.2 57 199.65)" textLength="8.89" lengthAdjust="spacingAndGlyphs">EZH2</text>
<text x="57" y="204.75" font-size="4.9" text-anchor="end" transform="rotate(0.2 57 204.75)" textLength="10.89" lengthAdjust="spacingAndGlyphs">GATA2</text>
<text x="57" y="209.85" font-size="4.9" text-anchor="end" transform="rotate(0.2 57 209.85)" textLength="11.79" lengthAdjust="spacingAndGlyphs">RUNX1</text>
<text x="57" y="214.95" font-size="4.9" text-anchor="end" transform="rotate(0.2 57 214.95)" textLength="14.3" lengthAdjust="spacingAndGlyphs">DNMT3A</text>
<text x="57" y="220.05" font-size="4.9" text-anchor="end" transform="rotate(0.2 57 220.05)" textLength="11.15" lengthAdjust="spacingAndGlyphs">STAG2</text>
<text x="57" y="225.15" font-size="4.9" text-anchor="end" transform="rotate(0.2 57 225.15)" textLength="11.99" lengthAdjust="spacingAndGlyphs">SMC1A</text>
<text x="57" y="230.25" font-size="4.9" text-anchor="end" transform="rotate(0.2 57 230.25)" textLength="11.22" lengthAdjust="spacingAndGlyphs">RAD21</text>
<text x="57" y="235.35" font-size="4.9" text-anchor="end" transform="rotate(0.2 57 235.35)" textLength="11.41" lengthAdjust="spacingAndGlyphs">PDS5B</text>
<text x="57" y="240.45" font-size="4.9" text-anchor="end" transform="rotate(0.2 57 240.45)" textLength="9.28" lengthAdjust="spacingAndGlyphs">CUX1</text>
<text x="57" y="245.55" font-size="4.9" text-anchor="end" transform="rotate(0.2 57 245.55)" textLength="11.99" lengthAdjust="spacingAndGlyphs">PPM1D</text>
<text x="57" y="250.65" font-size="4.9" text-anchor="end" transform="rotate(0.2 57 250.65)" textLength="8.32" lengthAdjust="spacingAndGlyphs">TP53</text>
<text x="57" y="255.75" font-size="4.9" text-anchor="end" transform="rotate(0.2 57 255.75)" textLength="11.79" lengthAdjust="spacingAndGlyphs">BRCC3</text>
<text x="57" y="260.85" font-size="4.9" text-anchor="end" transform="rotate(0.2 57 260.85)" textLength="9.67" lengthAdjust="spacingAndGlyphs">NPM1</text>
<text x="57" y="265.95" font-size="4.9" text-anchor="end" transform="rotate(0.2 57 265.95)" textLength="11.54" lengthAdjust="spacingAndGlyphs">CEBPA</text>
<text x="57" y="271.05" font-size="4.9" text-anchor="end" transform="rotate(0.2 57 271.05)" textLength="7.93" lengthAdjust="spacingAndGlyphs">IDH2</text>
<text x="57" y="276.15" font-size="4.9" text-anchor="end" transform="rotate(0.2 57 276.15)" textLength="8.89" lengthAdjust="spacingAndGlyphs">NFE2</text>
<text x="57" y="281.25" font-size="4.9" text-anchor="end" transform="rotate(0.2 57 281.25)" textLength="7.34" lengthAdjust="spacingAndGlyphs">WT1</text>
<text x="57" y="286.35" font-size="4.9" text-anchor="end" transform="rotate(0.2 57 286.35)" textLength="8.89" lengthAdjust="spacingAndGlyphs">PHF6</text>
<text x="57" y="291.45" font-size="4.9" text-anchor="end" transform="rotate(0.2 57 291.45)" textLength="10.05" lengthAdjust="spacingAndGlyphs">BCOR</text>
<text x="57" y="296.55" font-size="4.9" text-anchor="end" transform="rotate(0.2 57 296.55)" textLength="13.92" lengthAdjust="spacingAndGlyphs">BCORL1</text>
</g>
<g fill="#111">
<text x="8" y="15.6" font-size="11.6" transform="rotate(0.2 8 15.6)" textLength="7.2" lengthAdjust="spacingAndGlyphs">A</text>
<text x="7.3" y="322.8" font-size="11.6" transform="rotate(0.2 7.3 322.8)" textLength="6.04" lengthAdjust="spacingAndGlyphs">B</text>
<text x="193.8" y="322.8" font-size="11.6" transform="rotate(0.2 193.8 322.8)" textLength="6.03" lengthAdjust="spacingAndGlyphs">C</text>
<text x="286.2" y="322.8" font-size="11.6" transform="rotate(0.2 286.2 322.8)" textLength="7.37" lengthAdjust="spacingAndGlyphs">D</text>
</g>
<g fill="#333">
<rect x="416.2" y="22.65" width="3.1" height="6.8" fill="#a0223a"/>
<text x="422.3" y="27.85" font-size="5.0" transform="rotate(0.2 422.3 27.85)" textLength="41.48" lengthAdjust="spacingAndGlyphs">Missense mutation</text>
<rect x="416.2" y="32.75" width="3.1" height="6.8" fill="#e6a9c0"/>
<text x="422.3" y="37.95" font-size="5.0" transform="rotate(0.2 422.3 37.95)" textLength="48.77" lengthAdjust="spacingAndGlyphs">Missense mutation &gt;1</text>
<rect x="416.2" y="42.85" width="3.1" height="6.8" fill="#869a89"/>
<text x="422.3" y="48.05" font-size="5.0" transform="rotate(0.2 422.3 48.05)" textLength="45.98" lengthAdjust="spacingAndGlyphs">Truncation mutation</text>
<rect x="416.2" y="52.95" width="3.1" height="6.8" fill="#3f6f57"/>
<text x="422.3" y="58.15" font-size="5.0" transform="rotate(0.2 422.3 58.15)" textLength="53.14" lengthAdjust="spacingAndGlyphs">Truncation mutation &gt;1</text>
<rect x="416.2" y="63.05" width="3.1" height="6.8" fill="#6b4522"/>
<text x="422.3" y="68.25" font-size="5.0" transform="rotate(0.2 422.3 68.25)" textLength="68.04" lengthAdjust="spacingAndGlyphs">Missense+Truncation mutation</text>
<rect x="416.2" y="73.15" width="3.1" height="6.8" fill="#5b9bd5"/>
<text x="422.3" y="78.35" font-size="5.0" transform="rotate(0.2 422.3 78.35)" textLength="15.01" lengthAdjust="spacingAndGlyphs">Fusion</text>
<rect x="416.4" y="83.4" width="2.8" height="6.5" fill="#fff" stroke="#bbb" stroke-width="0.4"/>
<text x="422.3" y="88.45" font-size="5.0" transform="rotate(0.2 422.3 88.45)" textLength="26.96" lengthAdjust="spacingAndGlyphs">No mutation</text>
<rect x="416.2" y="125.6" width="3.1" height="6.8" fill="#6aa84f"/>
<text x="422.3" y="130.8" font-size="5.0" transform="rotate(0.2 422.3 130.8)" textLength="9.5" lengthAdjust="spacingAndGlyphs">CNL</text>
<rect x="416.2" y="135.7" width="3.1" height="6.8" fill="#c2257b"/>
<text x="422.3" y="140.9" font-size="5.0" transform="rotate(0.2 422.3 140.9)" textLength="12.67" lengthAdjust="spacingAndGlyphs">aCML</text>
<rect x="416.2" y="145.8" width="3.1" height="6.8" fill="#deb68f"/>
<text x="422.3" y="151" font-size="5.0" transform="rotate(0.2 422.3 151)" textLength="27.36" lengthAdjust="spacingAndGlyphs">MDS/MPN-U</text>
<rect x="416.2" y="155.9" width="3.1" height="6.8" fill="#b4712e"/>
<text x="422.3" y="161.1" font-size="5.0" transform="rotate(0.2 422.3 161.1)" textLength="15.57" lengthAdjust="spacingAndGlyphs">MPN-U</text>
<rect x="416.2" y="166" width="3.1" height="6.8" fill="#9c90c5"/>
<text x="422.3" y="171.2" font-size="5.0" transform="rotate(0.2 422.3 171.2)" textLength="14.13" lengthAdjust="spacingAndGlyphs">CMML</text>
<rect x="416.2" y="176.1" width="3.1" height="6.8" fill="#4e525d"/>
<text x="422.3" y="181.3" font-size="5.0" transform="rotate(0.2 422.3 181.3)" textLength="49.47" lengthAdjust="spacingAndGlyphs">No matched diagnosis</text>
<rect x="416.2" y="186.2" width="3.1" height="6.8" fill="#d3ccd0"/>
<text x="422.3" y="191.4" font-size="5.0" transform="rotate(0.2 422.3 191.4)" textLength="28.91" lengthAdjust="spacingAndGlyphs">Not available</text>
</g>
<g>
<rect x="33.9" y="337.45" width="4.2" height="63.05" fill="#a5283f" stroke="#7b1a2c" stroke-width="0.4"/>
<rect x="39.86" y="364.72" width="4.2" height="35.78" fill="#a5283f" stroke="#7b1a2c" stroke-width="0.4"/>
<rect x="45.81" y="368.59" width="4.2" height="31.91" fill="#a5283f" stroke="#7b1a2c" stroke-width="0.4"/>
<rect x="51.77" y="378.36" width="4.2" height="22.14" fill="#a5283f" stroke="#7b1a2c" stroke-width="0.4"/>
<rect x="57.72" y="379.03" width="4.2" height="21.47" fill="#a5283f" stroke="#7b1a2c" stroke-width="0.4"/>
<rect x="63.68" y="381.26" width="4.2" height="19.24" fill="#a5283f" stroke="#7b1a2c" stroke-width="0.4"/>
<rect x="69.63" y="382.9" width="4.2" height="17.6" fill="#a5283f" stroke="#7b1a2c" stroke-width="0.4"/>
<rect x="75.59" y="387.64" width="4.2" height="12.86" fill="#a5283f" stroke="#7b1a2c" stroke-width="0.4"/>
<rect x="81.54" y="389.48" width="4.2" height="11.02" fill="#a5283f" stroke="#7b1a2c" stroke-width="0.4"/>
<rect x="87.5" y="391.41" width="4.2" height="9.09" fill="#a5283f" stroke="#7b1a2c" stroke-width="0.4"/>
<rect x="93.45" y="392.18" width="4.2" height="8.32" fill="#a5283f" stroke="#7b1a2c" stroke-width="0.4"/>
<rect x="99.41" y="392.67" width="4.2" height="7.83" fill="#a5283f" stroke="#7b1a2c" stroke-width="0.4"/>
<rect x="105.36" y="394.79" width="4.2" height="5.71" fill="#a5283f" stroke="#7b1a2c" stroke-width="0.4"/>
<rect x="111.32" y="395.37" width="4.2" height="5.13" fill="#a5283f" stroke="#7b1a2c" stroke-width="0.4"/>
<rect x="117.27" y="395.37" width="4.2" height="5.13" fill="#a5283f" stroke="#7b1a2c" stroke-width="0.4"/>
<rect x="123.23" y="396.54" width="4.2" height="3.96" fill="#a5283f" stroke="#7b1a2c" stroke-width="0.4"/>
<rect x="129.18" y="397.12" width="4.2" height="3.38" fill="#a5283f" stroke="#7b1a2c" stroke-width="0.4"/>
<rect x="135.13" y="397.12" width="4.2" height="3.38" fill="#a5283f" stroke="#7b1a2c" stroke-width="0.4"/>
<rect x="141.09" y="397.12" width="4.2" height="3.38" fill="#a5283f" stroke="#7b1a2c" stroke-width="0.4"/>
<rect x="147.04" y="397.89" width="4.2" height="2.61" fill="#a5283f" stroke="#7b1a2c" stroke-width="0.4"/>
<rect x="153" y="397.89" width="4.2" height="2.61" fill="#a5283f" stroke="#7b1a2c" stroke-width="0.4"/>
<rect x="158.95" y="398.47" width="4.2" height="2.03" fill="#a5283f" stroke="#7b1a2c" stroke-width="0.4"/>
<rect x="164.91" y="398.47" width="4.2" height="2.03" fill="#a5283f" stroke="#7b1a2c" stroke-width="0.4"/>
<rect x="170.87" y="398.47" width="4.2" height="2.03" fill="#a5283f" stroke="#7b1a2c" stroke-width="0.4"/>
<rect x="176.82" y="398.47" width="4.2" height="2.03" fill="#a5283f" stroke="#7b1a2c" stroke-width="0.4"/>
<rect x="182.77" y="398.47" width="4.2" height="2.03" fill="#a5283f" stroke="#7b1a2c" stroke-width="0.4"/>
<path d="M32.7 329.8V401" stroke="#111" stroke-width="1" fill="none"/>
<path d="M32.2 400.62H190" stroke="#000" stroke-width="1.25" fill="none"/>
<path d="M29.6 400.5H32.7M29.6 390.83H32.7M29.6 381.16H32.7M29.6 371.49H32.7M29.6 361.82H32.7M29.6 352.15H32.7M29.6 342.48H32.7M29.6 332.81H32.7" stroke="#000" stroke-width="1.1" fill="none"/>
<path d="M36 401V403.7M41.95 401V403.7M47.91 401V403.7M53.87 401V403.7M59.82 401V403.7M65.78 401V403.7M71.73 401V403.7M77.69 401V403.7M83.64 401V403.7M89.59 401V403.7M95.55 401V403.7M101.5 401V403.7M107.46 401V403.7M113.42 401V403.7M119.37 401V403.7M125.33 401V403.7M131.28 401V403.7M137.24 401V403.7M143.19 401V403.7M149.15 401V403.7M155.1 401V403.7M161.06 401V403.7M167.01 401V403.7M172.97 401V403.7M178.92 401V403.7M184.88 401V403.7" stroke="#000" stroke-width="1.1" fill="none"/>
</g>
<g fill="#000">
<text x="27.9" y="402.7" font-size="6.1" text-anchor="end" transform="rotate(0.2 27.9 402.7)" textLength="3.12" lengthAdjust="spacingAndGlyphs">0</text>
<text x="27.9" y="393.03" font-size="6.1" text-anchor="end" transform="rotate(0.2 27.9 393.03)" textLength="6.24" lengthAdjust="spacingAndGlyphs">10</text>
<text x="27.9" y="383.36" font-size="6.1" text-anchor="end" transform="rotate(0.2 27.9 383.36)" textLength="6.24" lengthAdjust="spacingAndGlyphs">20</text>
<text x="27.9" y="373.69" font-size="6.1" text-anchor="end" transform="rotate(0.2 27.9 373.69)" textLength="6.24" lengthAdjust="spacingAndGlyphs">30</text>
<text x="27.9" y="364.02" font-size="6.1" text-anchor="end" transform="rotate(0.2 27.9 364.02)" textLength="6.24" lengthAdjust="spacingAndGlyphs">40</text>
<text x="27.9" y="354.35" font-size="6.1" text-anchor="end" transform="rotate(0.2 27.9 354.35)" textLength="6.24" lengthAdjust="spacingAndGlyphs">50</text>
<text x="27.9" y="344.68" font-size="6.1" text-anchor="end" transform="rotate(0.2 27.9 344.68)" textLength="6.24" lengthAdjust="spacingAndGlyphs">60</text>
<text x="27.9" y="335.01" font-size="6.1" text-anchor="end" transform="rotate(0.2 27.9 335.01)" textLength="6.24" lengthAdjust="spacingAndGlyphs">70</text>
<text x="14.4" y="365.5" font-size="7.6" text-anchor="middle" transform="rotate(-89.8 14.4 365.5)" textLength="52" lengthAdjust="spacingAndGlyphs">Frequency (%)</text>
<text x="38.45" y="407.1" font-size="6.6" text-anchor="end" transform="rotate(-89.8 38.45 407.1)" textLength="16.85" lengthAdjust="spacingAndGlyphs">ASXL1</text>
<text x="44.41" y="407.1" font-size="6.6" text-anchor="end" transform="rotate(-89.8 44.41 407.1)" textLength="17.44" lengthAdjust="spacingAndGlyphs">SRSF2</text>
<text x="50.36" y="407.1" font-size="6.6" text-anchor="end" transform="rotate(-89.8 50.36 407.1)" textLength="13.23" lengthAdjust="spacingAndGlyphs">TET2</text>
<text x="56.32" y="407.1" font-size="6.6" text-anchor="end" transform="rotate(-89.8 56.32 407.1)" textLength="17.74" lengthAdjust="spacingAndGlyphs">CSF3R</text>
<text x="62.27" y="407.1" font-size="6.6" text-anchor="end" transform="rotate(-89.8 62.27 407.1)" textLength="20.76" lengthAdjust="spacingAndGlyphs">SETBP1</text>
<text x="68.23" y="407.1" font-size="6.6" text-anchor="end" transform="rotate(-89.8 68.23 407.1)" textLength="13.83" lengthAdjust="spacingAndGlyphs">EZH2</text>
<text x="74.18" y="407.1" font-size="6.6" text-anchor="end" transform="rotate(-89.8 74.18 407.1)" textLength="15.04" lengthAdjust="spacingAndGlyphs">NRAS</text>
<text x="80.14" y="407.1" font-size="6.6" text-anchor="end" transform="rotate(-89.8 80.14 407.1)" textLength="16.94" lengthAdjust="spacingAndGlyphs">GATA2</text>
<text x="86.09" y="407.1" font-size="6.6" text-anchor="end" transform="rotate(-89.8 86.09 407.1)" textLength="16.84" lengthAdjust="spacingAndGlyphs">U2AF1</text>
<text x="92.05" y="407.1" font-size="6.6" text-anchor="end" transform="rotate(-89.8 92.05 407.1)" textLength="18.34" lengthAdjust="spacingAndGlyphs">RUNX1</text>
<text x="98" y="407.1" font-size="6.6" text-anchor="end" transform="rotate(-89.8 98 407.1)" textLength="10.53" lengthAdjust="spacingAndGlyphs">CBL</text>
<text x="103.95" y="407.1" font-size="6.6" text-anchor="end" transform="rotate(-89.8 103.95 407.1)" textLength="12.94" lengthAdjust="spacingAndGlyphs">JAK2</text>
<text x="109.91" y="407.1" font-size="6.6" text-anchor="end" transform="rotate(-89.8 109.91 407.1)" textLength="17.34" lengthAdjust="spacingAndGlyphs">STAG2</text>
<text x="115.87" y="407.1" font-size="6.6" text-anchor="end" transform="rotate(-89.8 115.87 407.1)" textLength="20.05" lengthAdjust="spacingAndGlyphs">PTPN11</text>
<text x="121.82" y="407.1" font-size="6.6" text-anchor="end" transform="rotate(-89.8 121.82 407.1)" textLength="22.25" lengthAdjust="spacingAndGlyphs">DNMT3A</text>
<text x="127.78" y="407.1" font-size="6.6" text-anchor="end" transform="rotate(-89.8 127.78 407.1)" textLength="16.55" lengthAdjust="spacingAndGlyphs">SF3B1</text>
<text x="133.73" y="407.1" font-size="6.6" text-anchor="end" transform="rotate(-89.8 133.73 407.1)" textLength="14.74" lengthAdjust="spacingAndGlyphs">KRAS</text>
<text x="139.69" y="407.1" font-size="6.6" text-anchor="end" transform="rotate(-89.8 139.69 407.1)" textLength="17.44" lengthAdjust="spacingAndGlyphs">ETNK1</text>
<text x="145.64" y="407.1" font-size="6.6" text-anchor="end" transform="rotate(-89.8 145.64 407.1)" textLength="14.44" lengthAdjust="spacingAndGlyphs">CUX1</text>
<text x="151.59" y="407.1" font-size="6.6" text-anchor="end" transform="rotate(-89.8 151.59 407.1)" textLength="16.85" lengthAdjust="spacingAndGlyphs">ASXL2</text>
<text x="157.55" y="407.1" font-size="6.6" text-anchor="end" transform="rotate(-89.8 157.55 407.1)" textLength="17.44" lengthAdjust="spacingAndGlyphs">PRPF8</text>
<text x="163.5" y="407.1" font-size="6.6" text-anchor="end" transform="rotate(-89.8 163.5 407.1)" textLength="10.22" lengthAdjust="spacingAndGlyphs">NF1</text>
<text x="169.46" y="407.1" font-size="6.6" text-anchor="end" transform="rotate(-89.8 169.46 407.1)" textLength="12.23" lengthAdjust="spacingAndGlyphs">FLT3</text>
<text x="175.42" y="407.1" font-size="6.6" text-anchor="end" transform="rotate(-89.8 175.42 407.1)" textLength="16.84" lengthAdjust="spacingAndGlyphs">U2AF2</text>
<text x="181.37" y="407.1" font-size="6.6" text-anchor="end" transform="rotate(-89.8 181.37 407.1)" textLength="17.74" lengthAdjust="spacingAndGlyphs">ZRSR2</text>
<text x="187.32" y="407.1" font-size="6.6" text-anchor="end" transform="rotate(-89.8 187.32 407.1)" textLength="13.83" lengthAdjust="spacingAndGlyphs">PHF6</text>
</g>
<g>
<rect x="229.4" y="368.03" width="9.2" height="32.67" fill="#eccdc3"/>
<rect x="242.6" y="367.62" width="9.2" height="33.08" fill="#eccdc3"/>
<rect x="255.8" y="373" width="9.2" height="27.7" fill="#eccdc3"/>
<rect x="268.9" y="370.51" width="9.2" height="30.19" fill="#eccdc3"/>
<rect x="231.98" y="350.36" width="1.45" height="1.45" fill="#a8293f"/>
<rect x="234.58" y="350.36" width="1.45" height="1.45" fill="#a8293f"/>
<rect x="229.4" y="358.68" width="9.2" height="1.35" fill="#a8293f"/>
<rect x="229.4" y="366.95" width="9.2" height="1.35" fill="#a8293f"/>
<rect x="229.4" y="375.22" width="9.2" height="1.35" fill="#a8293f"/>
<rect x="233.28" y="383.44" width="1.45" height="1.45" fill="#a8293f"/>
<rect x="233.28" y="391.71" width="1.45" height="1.45" fill="#a8293f"/>
<rect x="246.48" y="342.09" width="1.45" height="1.45" fill="#a8293f"/>
<rect x="245.18" y="350.36" width="1.45" height="1.45" fill="#a8293f"/>
<rect x="247.78" y="350.36" width="1.45" height="1.45" fill="#a8293f"/>
<rect x="242.8" y="358.75" width="8.8" height="1.2" fill="#c25a70"/>
<rect x="242.6" y="366.95" width="9.2" height="1.35" fill="#a8293f"/>
<rect x="242.6" y="375.22" width="9.2" height="1.35" fill="#a8293f"/>
<rect x="246.48" y="391.71" width="1.45" height="1.45" fill="#a8293f"/>
<rect x="257.08" y="350.36" width="1.45" height="1.45" fill="#a8293f"/>
<rect x="259.68" y="350.36" width="1.45" height="1.45" fill="#a8293f"/>
<rect x="262.28" y="350.36" width="1.45" height="1.45" fill="#a8293f"/>
<rect x="257.08" y="358.63" width="1.45" height="1.45" fill="#a8293f"/>
<rect x="259.68" y="358.63" width="1.45" height="1.45" fill="#a8293f"/>
<rect x="262.28" y="358.63" width="1.45" height="1.45" fill="#a8293f"/>
<rect x="255.8" y="366.95" width="9.2" height="1.35" fill="#a8293f"/>
<rect x="255.8" y="375.22" width="9.2" height="1.35" fill="#a8293f"/>
<rect x="259.68" y="383.44" width="1.45" height="1.45" fill="#a8293f"/>
<rect x="257.08" y="391.71" width="1.45" height="1.45" fill="#a8293f"/>
<rect x="259.68" y="391.71" width="1.45" height="1.45" fill="#a8293f"/>
<rect x="262.28" y="391.71" width="1.45" height="1.45" fill="#a8293f"/>
<rect x="272.78" y="333.82" width="1.45" height="1.45" fill="#a8293f"/>
<rect x="272.78" y="350.36" width="1.45" height="1.45" fill="#a8293f"/>
<rect x="268.9" y="358.68" width="9.2" height="1.35" fill="#a8293f"/>
<rect x="268.9" y="366.95" width="9.2" height="1.35" fill="#a8293f"/>
<rect x="268.88" y="375.17" width="1.45" height="1.45" fill="#a8293f"/>
<rect x="271.48" y="375.17" width="1.45" height="1.45" fill="#a8293f"/>
<rect x="274.08" y="375.17" width="1.45" height="1.45" fill="#a8293f"/>
<rect x="276.68" y="375.17" width="1.45" height="1.45" fill="#a8293f"/>
<rect x="271.48" y="383.44" width="1.45" height="1.45" fill="#a8293f"/>
<rect x="274.08" y="383.44" width="1.45" height="1.45" fill="#a8293f"/>
<rect x="271.48" y="391.71" width="1.45" height="1.45" fill="#a8293f"/>
<rect x="274.08" y="391.71" width="1.45" height="1.45" fill="#a8293f"/>
<path d="M234 366.21V369.85M231.6 366.21H236.4M231.6 369.85H236.4" stroke="#1a1a1a" stroke-width="1" fill="none"/>
<path d="M247.2 365.55V369.69M244.8 365.55H249.6M244.8 369.69H249.6" stroke="#1a1a1a" stroke-width="1" fill="none"/>
<path d="M260.4 370.35V375.64M258 370.35H262.8M258 375.64H262.8" stroke="#1a1a1a" stroke-width="1" fill="none"/>
<path d="M273.5 367.87V373.16M271.1 367.87H275.9M271.1 373.16H275.9" stroke="#1a1a1a" stroke-width="1" fill="none"/>
<path d="M224.6 332V401.2" stroke="#111" stroke-width="1" fill="none"/>
<path d="M224.1 400.62H281.5" stroke="#000" stroke-width="1.25" fill="none"/>
<path d="M221.5 400.7H224.6M221.5 384.16H224.6M221.5 367.62H224.6M221.5 351.08H224.6M221.5 334.54H224.6M234 401.2V404.3M247.2 401.2V404.3M260.4 401.2V404.3M273.5 401.2V404.3" stroke="#000" stroke-width="1.1" fill="none"/>
</g>
<g fill="#000">
<text x="219" y="402.9" font-size="6.1" text-anchor="end" transform="rotate(0.2 219 402.9)" textLength="3.05" lengthAdjust="spacingAndGlyphs">0</text>
<text x="219" y="386.36" font-size="6.1" text-anchor="end" transform="rotate(0.2 219 386.36)" textLength="3.05" lengthAdjust="spacingAndGlyphs">2</text>
<text x="219" y="369.82" font-size="6.1" text-anchor="end" transform="rotate(0.2 219 369.82)" textLength="3.05" lengthAdjust="spacingAndGlyphs">4</text>
<text x="219" y="353.28" font-size="6.1" text-anchor="end" transform="rotate(0.2 219 353.28)" textLength="3.05" lengthAdjust="spacingAndGlyphs">6</text>
<text x="219" y="336.74" font-size="6.1" text-anchor="end" transform="rotate(0.2 219 336.74)" textLength="3.05" lengthAdjust="spacingAndGlyphs">8</text>
<text x="200" y="366.7" font-size="7.6" text-anchor="middle" transform="rotate(-89.8 200 366.7)" textLength="64" lengthAdjust="spacingAndGlyphs">Average mutation</text>
<text x="209.9" y="366.7" font-size="7.6" text-anchor="middle" transform="rotate(-89.8 209.9 366.7)" textLength="28" lengthAdjust="spacingAndGlyphs">number</text>
<text x="235.7" y="408.5" font-size="6.0" text-anchor="end" transform="rotate(-44.8 235.7 408.5)" textLength="12" lengthAdjust="spacingAndGlyphs">CNL</text>
<text x="248.9" y="408.5" font-size="6.0" text-anchor="end" transform="rotate(-44.8 248.9 408.5)" textLength="16" lengthAdjust="spacingAndGlyphs">aCML</text>
<text x="262.1" y="408.5" font-size="6.0" text-anchor="end" transform="rotate(-44.8 262.1 408.5)" textLength="37.02" lengthAdjust="spacingAndGlyphs">Unclassifiable</text>
<text x="275.2" y="408.5" font-size="6.0" text-anchor="end" transform="rotate(-44.8 275.2 408.5)" textLength="17.67" lengthAdjust="spacingAndGlyphs">CMML</text>
</g>
<g>
<rect x="317.8" y="382.81" width="6" height="17.59" fill="#6aa84f"/>
<rect x="317.8" y="362.8" width="6" height="20" fill="#c2257b"/>
<rect x="317.8" y="347.14" width="6" height="15.66" fill="#b7b78b"/>
<rect x="317.8" y="330.51" width="6" height="16.63" fill="#9c90c5"/>
<rect x="327.65" y="385.94" width="6" height="14.46" fill="#6aa84f"/>
<rect x="327.65" y="380.16" width="6" height="5.78" fill="#c2257b"/>
<rect x="327.65" y="378.95" width="6" height="1.21" fill="#b7b78b"/>
<rect x="327.65" y="377.99" width="6" height="0.96" fill="#9c90c5"/>
<rect x="337.5" y="396.3" width="6" height="4.1" fill="#6aa84f"/>
<rect x="337.5" y="387.39" width="6" height="8.92" fill="#c2257b"/>
<rect x="337.5" y="376.3" width="6" height="11.09" fill="#b7b78b"/>
<rect x="337.5" y="365.21" width="6" height="11.09" fill="#9c90c5"/>
<rect x="347.35" y="390.52" width="6" height="9.88" fill="#6aa84f"/>
<rect x="347.35" y="381.36" width="6" height="9.16" fill="#c2257b"/>
<rect x="347.35" y="370.27" width="6" height="11.09" fill="#b7b78b"/>
<rect x="347.35" y="364.25" width="6" height="6.02" fill="#9c90c5"/>
<rect x="357.2" y="391.24" width="6" height="9.16" fill="#6aa84f"/>
<rect x="357.2" y="389.31" width="6" height="1.93" fill="#c2257b"/>
<rect x="357.2" y="385.22" width="6" height="4.1" fill="#b7b78b"/>
<rect x="357.2" y="382.32" width="6" height="2.89" fill="#9c90c5"/>
<rect x="367.05" y="398.95" width="6" height="1.45" fill="#6aa84f"/>
<rect x="367.05" y="392.21" width="6" height="6.75" fill="#c2257b"/>
<rect x="367.05" y="390.52" width="6" height="1.69" fill="#b7b78b"/>
<rect x="367.05" y="381.36" width="6" height="9.16" fill="#9c90c5"/>
<rect x="376.9" y="396.3" width="6" height="4.1" fill="#6aa84f"/>
<rect x="376.9" y="388.83" width="6" height="7.47" fill="#c2257b"/>
<rect x="376.9" y="383.05" width="6" height="5.78" fill="#b7b78b"/>
<rect x="376.9" y="381.36" width="6" height="1.69" fill="#9c90c5"/>
<rect x="386.75" y="400.16" width="6" height="0.24" fill="#6aa84f"/>
<rect x="386.75" y="397.99" width="6" height="2.17" fill="#c2257b"/>
<rect x="386.75" y="396.78" width="6" height="1.21" fill="#b7b78b"/>
<rect x="386.75" y="390.04" width="6" height="6.75" fill="#9c90c5"/>
<rect x="396.6" y="397.51" width="6" height="2.89" fill="#6aa84f"/>
<rect x="396.6" y="393.89" width="6" height="3.61" fill="#c2257b"/>
<rect x="396.6" y="392.21" width="6" height="1.69" fill="#b7b78b"/>
<rect x="396.6" y="385.94" width="6" height="6.27" fill="#9c90c5"/>
<rect x="406.45" y="399.19" width="6" height="1.21" fill="#6aa84f"/>
<rect x="406.45" y="397.51" width="6" height="1.69" fill="#c2257b"/>
<rect x="406.45" y="395.58" width="6" height="1.93" fill="#b7b78b"/>
<rect x="406.45" y="391" width="6" height="4.58" fill="#9c90c5"/>
<rect x="416.3" y="399.68" width="6" height="0.72" fill="#6aa84f"/>
<rect x="416.3" y="396.78" width="6" height="2.89" fill="#b7b78b"/>
<rect x="426.15" y="397.99" width="6" height="2.41" fill="#6aa84f"/>
<rect x="426.15" y="394.62" width="6" height="3.37" fill="#c2257b"/>
<rect x="426.15" y="390.04" width="6" height="4.58" fill="#b7b78b"/>
<rect x="426.15" y="387.14" width="6" height="2.89" fill="#9c90c5"/>
<rect x="436" y="399.19" width="6" height="1.21" fill="#6aa84f"/>
<rect x="436" y="396.3" width="6" height="2.89" fill="#c2257b"/>
<rect x="436" y="394.62" width="6" height="1.69" fill="#b7b78b"/>
<rect x="436" y="393.65" width="6" height="0.96" fill="#9c90c5"/>
<rect x="445.85" y="399.68" width="6" height="0.72" fill="#6aa84f"/>
<rect x="445.85" y="397.99" width="6" height="1.69" fill="#b7b78b"/>
<rect x="455.7" y="399.19" width="6" height="1.21" fill="#6aa84f"/>
<rect x="455.7" y="396.3" width="6" height="2.89" fill="#c2257b"/>
<rect x="455.7" y="394.38" width="6" height="1.93" fill="#b7b78b"/>
<rect x="455.7" y="393.17" width="6" height="1.21" fill="#9c90c5"/>
<rect x="465.55" y="399.92" width="6" height="0.48" fill="#6aa84f"/>
<rect x="465.55" y="397.03" width="6" height="2.89" fill="#c2257b"/>
<rect x="475.4" y="400.16" width="6" height="0.24" fill="#6aa84f"/>
<rect x="475.4" y="399.19" width="6" height="0.96" fill="#c2257b"/>
<rect x="475.4" y="396.78" width="6" height="2.41" fill="#9c90c5"/>
<rect x="485.25" y="400.16" width="6" height="0.24" fill="#6aa84f"/>
<rect x="485.25" y="399.92" width="6" height="0.24" fill="#c2257b"/>
<rect x="485.25" y="397.99" width="6" height="1.93" fill="#9c90c5"/>
<rect x="495.1" y="399.68" width="6" height="0.72" fill="#6aa84f"/>
<rect x="495.1" y="397.99" width="6" height="1.69" fill="#c2257b"/>
<rect x="495.1" y="395.58" width="6" height="2.41" fill="#9c90c5"/>
<rect x="504.95" y="398.47" width="6" height="1.93" fill="#6aa84f"/>
<rect x="504.95" y="397.03" width="6" height="1.45" fill="#b7b78b"/>
<rect x="504.95" y="396.3" width="6" height="0.72" fill="#9c90c5"/>
<path d="M314.3 326.5V400.9" stroke="#111" stroke-width="1" fill="none"/>
<path d="M313.8 400.62H512.7" stroke="#000" stroke-width="1.25" fill="none"/>
<path d="M311.2 400.4H314.3M311.2 376.3H314.3M311.2 352.2H314.3M311.2 328.1H314.3M320.8 400.9V404.2M330.65 400.9V404.2M340.5 400.9V404.2M350.35 400.9V404.2M360.2 400.9V404.2M370.05 400.9V404.2M379.9 400.9V404.2M389.75 400.9V404.2M399.6 400.9V404.2M409.45 400.9V404.2M419.3 400.9V404.2M429.15 400.9V404.2M439 400.9V404.2M448.85 400.9V404.2M458.7 400.9V404.2M468.55 400.9V404.2M478.4 400.9V404.2M488.25 400.9V404.2M498.1 400.9V404.2M507.95 400.9V404.2" stroke="#000" stroke-width="1.1" fill="none"/>
</g>
<g fill="#000">
<text x="309.2" y="402.6" font-size="6.1" text-anchor="end" transform="rotate(0.2 309.2 402.6)" textLength="3.39" lengthAdjust="spacingAndGlyphs">0</text>
<text x="309.2" y="378.5" font-size="6.1" text-anchor="end" transform="rotate(0.2 309.2 378.5)" textLength="10.18" lengthAdjust="spacingAndGlyphs">100</text>
<text x="309.2" y="354.4" font-size="6.1" text-anchor="end" transform="rotate(0.2 309.2 354.4)" textLength="10.18" lengthAdjust="spacingAndGlyphs">200</text>
<text x="309.2" y="330.3" font-size="6.1" text-anchor="end" transform="rotate(0.2 309.2 330.3)" textLength="10.18" lengthAdjust="spacingAndGlyphs">300</text>
<text x="292" y="364" font-size="7.9" text-anchor="middle" transform="rotate(-89.8 292 364)" textLength="82.5" lengthAdjust="spacingAndGlyphs">Mutation frequency (%)</text>
<text x="323.2" y="410.1" font-size="6.0" text-anchor="end" transform="rotate(-44.8 323.2 410.1)" textLength="17.56" lengthAdjust="spacingAndGlyphs">ASXL1</text>
<text x="333.05" y="410.1" font-size="6.0" text-anchor="end" transform="rotate(-44.8 333.05 410.1)" textLength="18.49" lengthAdjust="spacingAndGlyphs">CSF3R</text>
<text x="342.9" y="410.1" font-size="6.0" text-anchor="end" transform="rotate(-44.8 342.9 410.1)" textLength="13.79" lengthAdjust="spacingAndGlyphs">TET2</text>
<text x="352.75" y="410.1" font-size="6.0" text-anchor="end" transform="rotate(-44.8 352.75 410.1)" textLength="18.18" lengthAdjust="spacingAndGlyphs">SRSF2</text>
<text x="362.6" y="410.1" font-size="6.0" text-anchor="end" transform="rotate(-44.8 362.6 410.1)" textLength="21.63" lengthAdjust="spacingAndGlyphs">SETBP1</text>
<text x="372.45" y="410.1" font-size="6.0" text-anchor="end" transform="rotate(-44.8 372.45 410.1)" textLength="15.67" lengthAdjust="spacingAndGlyphs">NRAS</text>
<text x="382.3" y="410.1" font-size="6.0" text-anchor="end" transform="rotate(-44.8 382.3 410.1)" textLength="14.42" lengthAdjust="spacingAndGlyphs">EZH2</text>
<text x="392.15" y="410.1" font-size="6.0" text-anchor="end" transform="rotate(-44.8 392.15 410.1)" textLength="19.12" lengthAdjust="spacingAndGlyphs">RUNX1</text>
<text x="402" y="410.1" font-size="6.0" text-anchor="end" transform="rotate(-44.8 402 410.1)" textLength="17.55" lengthAdjust="spacingAndGlyphs">U2AF1</text>
<text x="411.85" y="410.1" font-size="6.0" text-anchor="end" transform="rotate(-44.8 411.85 410.1)" textLength="17.24" lengthAdjust="spacingAndGlyphs">SF3B1</text>
<text x="421.7" y="410.1" font-size="6.0" text-anchor="end" transform="rotate(-44.8 421.7 410.1)" textLength="17.66" lengthAdjust="spacingAndGlyphs">GATA2</text>
<text x="431.55" y="410.1" font-size="6.0" text-anchor="end" transform="rotate(-44.8 431.55 410.1)" textLength="17.56" lengthAdjust="spacingAndGlyphs">ASXL2</text>
<text x="441.4" y="410.1" font-size="6.0" text-anchor="end" transform="rotate(-44.8 441.4 410.1)" textLength="23.19" lengthAdjust="spacingAndGlyphs">DNMT3A</text>
<text x="451.25" y="410.1" font-size="6.0" text-anchor="end" transform="rotate(-44.8 451.25 410.1)" textLength="18.18" lengthAdjust="spacingAndGlyphs">ETNK1</text>
<text x="461.1" y="410.1" font-size="6.0" text-anchor="end" transform="rotate(-44.8 461.1 410.1)" textLength="18.07" lengthAdjust="spacingAndGlyphs">STAG2</text>
<text x="470.95" y="410.1" font-size="6.0" text-anchor="end" transform="rotate(-44.8 470.95 410.1)" textLength="15.36" lengthAdjust="spacingAndGlyphs">KRAS</text>
<text x="480.8" y="410.1" font-size="6.0" text-anchor="end" transform="rotate(-44.8 480.8 410.1)" textLength="14.42" lengthAdjust="spacingAndGlyphs">PHF6</text>
<text x="490.65" y="410.1" font-size="6.0" text-anchor="end" transform="rotate(-44.8 490.65 410.1)" textLength="18.18" lengthAdjust="spacingAndGlyphs">PRPF8</text>
<text x="500.5" y="410.1" font-size="6.0" text-anchor="end" transform="rotate(-44.8 500.5 410.1)" textLength="20.9" lengthAdjust="spacingAndGlyphs">PTPN11</text>
<text x="510.35" y="410.1" font-size="6.0" text-anchor="end" transform="rotate(-44.8 510.35 410.1)" textLength="22.57" lengthAdjust="spacingAndGlyphs">BCORL1</text>
<rect x="450.4" y="333.2" width="7.4" height="4.6" fill="#6aa84f"/>
<text x="461" y="337.5" font-size="5.6" transform="rotate(0.2 461 337.5)" textLength="9.07" lengthAdjust="spacingAndGlyphs">CNL</text>
<rect x="450.4" y="341.9" width="7.4" height="4.6" fill="#c2257b"/>
<text x="461" y="346.2" font-size="5.6" transform="rotate(0.2 461 346.2)" textLength="12.25" lengthAdjust="spacingAndGlyphs">aCML</text>
<rect x="450.4" y="350.6" width="7.4" height="4.6" fill="#b7b78b"/>
<text x="461" y="354.9" font-size="5.6" transform="rotate(0.2 461 354.9)" textLength="29.82" lengthAdjust="spacingAndGlyphs">Unclassifiable</text>
<rect x="450.4" y="359.3" width="7.4" height="4.6" fill="#9c90c5"/>
<text x="461" y="363.6" font-size="5.6" transform="rotate(0.2 461 363.6)" textLength="14.02" lengthAdjust="spacingAndGlyphs">CMML</text>
</g>
</g>
</svg>
</body></html>
